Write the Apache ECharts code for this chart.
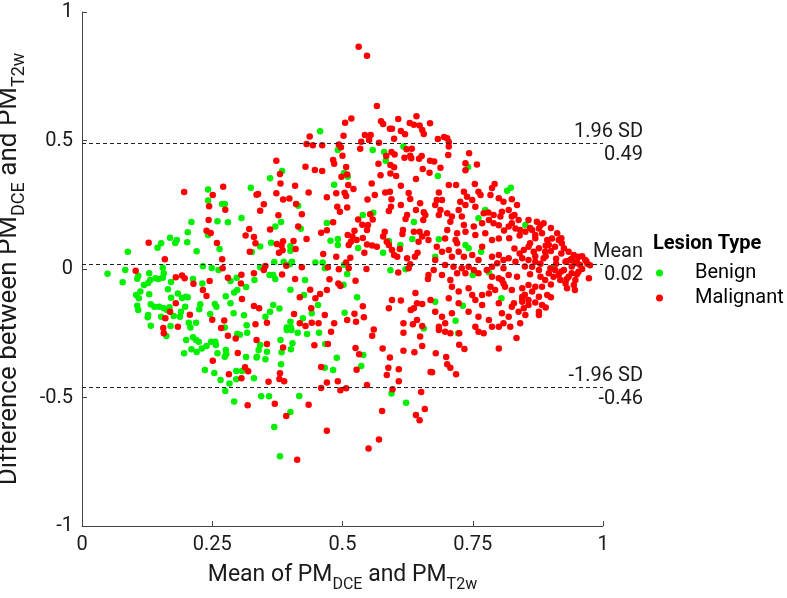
<!DOCTYPE html>
<html><head><meta charset="utf-8">
<script src="https://cdn.jsdelivr.net/npm/echarts/dist/echarts.min.js"></script>
<style>html,body{margin:0;padding:0;background:#fff}#c{width:787px;height:598px}</style>
</head><body><div id="c"></div>
<script>
const seriesNames = ['Benign', 'Malignant'];
const xTicks = [0, 0.25, 0.5, 0.75, 1];
const yTicks = [-1, -0.5, 0, 0.5, 1];
const limitValues = [0.49, 0.02, -0.46];
const limitNames = ['1.96 SD', 'Mean', '-1.96 SD'];
const limitTexts = ['0.49', '0.02', '-0.46'];

// [mean, difference]
const benignPoints = [
[0.457,0.536],[0.491,0.463],[0.558,0.463],[0.580,0.455],[0.583,0.421],[0.617,0.477],[0.503,0.374],[0.510,0.359],[0.384,0.381],[0.361,0.353],
[0.683,0.362],[0.741,0.397],[0.242,0.309],[0.324,0.316],[0.242,0.267],[0.269,0.253],[0.274,0.253],[0.306,0.198],[0.210,0.183],[0.260,0.186],
[0.280,0.182],[0.203,0.143],[0.242,0.132],[0.169,0.122],[0.182,0.113],[0.152,0.100],[0.145,0.083],[0.179,0.101],[0.202,0.104],[0.220,0.069],
[0.088,0.067],[0.264,0.078],[0.326,0.066],[0.232,0.011],[0.249,0.004],[0.083,-0.004],[0.049,-0.018],[0.078,-0.052],[0.155,0.005],[0.157,-0.017],
[0.155,-0.034],[0.108,-0.026],[0.106,-0.038],[0.129,-0.017],[0.131,-0.043],[0.171,-0.051],[0.141,-0.036],[0.147,-0.039],[0.262,-0.004],[0.297,-0.034],
[0.285,-0.047],[0.331,-0.043],[0.213,-0.039],[0.231,-0.056],[0.315,-0.070],[0.298,-0.082],[0.292,-0.091],[0.276,-0.106],[0.119,-0.062],[0.127,-0.054],
[0.112,-0.088],[0.129,-0.098],[0.104,-0.101],[0.109,-0.114],[0.165,-0.079],[0.171,-0.112],[0.184,-0.095],[0.192,-0.113],[0.199,-0.108],[0.203,-0.110],
[0.106,-0.143],[0.108,-0.160],[0.132,-0.137],[0.139,-0.147],[0.148,-0.147],[0.157,-0.153],[0.163,-0.160],[0.168,-0.149],[0.198,-0.147],[0.190,-0.166],
[0.227,-0.137],[0.225,-0.157],[0.255,-0.136],[0.258,-0.147],[0.285,-0.133],[0.127,-0.179],[0.126,-0.188],[0.152,-0.186],[0.176,-0.183],[0.188,-0.186],
[0.246,-0.175],[0.291,-0.172],[0.311,-0.180],[0.205,-0.209],[0.219,-0.209],[0.132,-0.221],[0.170,-0.222],[0.316,-0.219],[0.274,-0.228],[0.208,-0.228],
[0.484,0.328],[0.415,0.246],[0.559,0.219],[0.539,0.210],[0.637,0.183],[0.382,0.183],[0.470,0.179],[0.420,0.157],[0.371,0.165],[0.634,0.117],
[0.491,0.117],[0.477,0.110],[0.491,0.093],[0.363,0.102],[0.400,0.089],[0.400,0.071],[0.342,0.088],[0.530,0.082],[0.578,0.063],[0.589,0.109],
[0.611,0.093],[0.448,0.025],[0.462,0.025],[0.466,0.003],[0.369,0.027],[0.342,0.007],[0.387,0.028],[0.403,0.028],[0.399,0.018],[0.503,0.017],
[0.509,-0.019],[0.592,-0.005],[0.621,-0.001],[0.367,-0.023],[0.371,-0.039],[0.360,-0.023],[0.428,-0.043],[0.502,-0.061],[0.400,-0.081],[0.426,-0.101],
[0.528,-0.110],[0.453,-0.140],[0.367,-0.140],[0.379,-0.154],[0.361,-0.166],[0.352,-0.186],[0.424,-0.192],[0.441,-0.172],[0.400,-0.205],[0.393,-0.228],
[0.401,-0.228],[0.504,-0.170],[0.656,-0.232],[0.816,0.304],[0.823,0.316],[0.774,0.230],[0.761,0.197],[0.851,0.171],[0.905,0.007],[0.781,-0.014],
[0.750,-0.023],[0.678,0.048],[0.685,0.116],[0.736,0.093],[0.742,0.081],[0.766,0.067],[0.731,-0.143],[0.678,-0.127],[0.717,-0.201],[0.805,-0.114],
[0.162,-0.261],[0.200,-0.276],[0.213,-0.266],[0.219,-0.276],[0.224,-0.283],[0.248,-0.283],[0.256,-0.283],[0.257,-0.296],[0.298,-0.253],[0.303,-0.256],
[0.317,-0.248],[0.210,-0.312],[0.220,-0.323],[0.196,-0.328],[0.230,-0.309],[0.239,-0.300],[0.260,-0.328],[0.276,-0.315],[0.274,-0.341],[0.277,-0.331],
[0.315,-0.342],[0.335,-0.344],[0.236,-0.393],[0.254,-0.405],[0.296,-0.397],[0.307,-0.397],[0.266,-0.432],[0.283,-0.446],[0.296,-0.429],[0.330,-0.425],
[0.275,-0.475],[0.292,-0.516],[0.393,-0.237],[0.402,-0.237],[0.414,-0.248],[0.432,-0.253],[0.455,-0.248],[0.381,-0.276],[0.342,-0.296],[0.339,-0.315],
[0.355,-0.322],[0.352,-0.351],[0.336,-0.341],[0.383,-0.324],[0.382,-0.371],[0.404,-0.289],[0.401,-0.312],[0.467,-0.292],[0.540,-0.335],[0.489,-0.345],
[0.466,-0.384],[0.482,-0.393],[0.536,-0.377],[0.594,-0.484],[0.344,-0.495],[0.359,-0.495],[0.417,-0.494],[0.622,-0.520],[0.400,-0.556],[0.369,-0.615],
[0.380,-0.729],[0.722,-0.250]
];

const malignantPoints = [
[0.531,0.865],[0.547,0.830],[0.566,0.634],[0.517,0.586],[0.505,0.569],[0.437,0.516],[0.502,0.518],[0.543,0.521],[0.554,0.521],[0.574,0.575],
[0.578,0.564],[0.607,0.584],[0.591,0.546],[0.595,0.546],[0.629,0.568],[0.637,0.561],[0.642,0.594],[0.648,0.558],[0.653,0.541],[0.656,0.525],
[0.668,0.567],[0.612,0.537],[0.620,0.524],[0.599,0.507],[0.431,0.486],[0.443,0.482],[0.461,0.482],[0.493,0.484],[0.497,0.474],[0.500,0.441],
[0.536,0.495],[0.534,0.468],[0.551,0.502],[0.570,0.491],[0.584,0.440],[0.594,0.455],[0.600,0.446],[0.623,0.466],[0.633,0.468],[0.619,0.433],
[0.630,0.441],[0.632,0.431],[0.647,0.429],[0.652,0.440],[0.668,0.421],[0.482,0.424],[0.484,0.410],[0.373,0.421],[0.429,0.398],[0.447,0.385],
[0.461,0.381],[0.507,0.397],[0.509,0.368],[0.498,0.359],[0.569,0.410],[0.573,0.365],[0.592,0.405],[0.599,0.396],[0.592,0.372],[0.603,0.362],
[0.654,0.389],[0.667,0.375],[0.641,0.350],[0.380,0.370],
[0.683,0.506],[0.695,0.514],[0.701,0.509],[0.704,0.494],[0.704,0.477],[0.703,0.444],[0.676,0.418],[0.688,0.394],[0.743,0.450],[0.736,0.411],
[0.758,0.407],[0.736,0.384],
[0.196,0.300],[0.271,0.320],[0.335,0.289],[0.251,0.288],[0.244,0.244],[0.275,0.231],[0.243,0.191],[0.321,0.156],[0.239,0.149],[0.247,0.140],
[0.314,0.130],[0.330,0.125],[0.128,0.102],[0.259,0.101],[0.333,0.100],[0.322,0.067],[0.159,0.038],[0.269,0.038],[0.103,-0.007],[0.180,-0.032],
[0.192,-0.025],[0.197,-0.036],[0.270,0.003],[0.306,-0.022],[0.330,-0.017],[0.280,-0.034],[0.214,-0.057],[0.245,-0.047],[0.232,-0.082],[0.305,-0.056],
[0.239,-0.105],[0.307,-0.117],[0.180,-0.133],[0.169,-0.166],[0.330,-0.144],[0.160,-0.192],[0.207,-0.178],[0.250,-0.197],[0.273,-0.200],[0.156,-0.230],
[0.184,-0.225],[0.267,-0.230],[0.333,-0.215],
[0.381,0.333],[0.409,0.324],[0.511,0.327],[0.521,0.311],[0.504,0.297],[0.507,0.284],[0.488,0.295],[0.470,0.279],[0.435,0.298],[0.373,0.295],
[0.386,0.270],[0.398,0.274],[0.338,0.292],[0.556,0.333],[0.562,0.288],[0.548,0.270],[0.582,0.298],[0.591,0.301],[0.612,0.324],[0.627,0.296],
[0.594,0.271],[0.593,0.242],[0.589,0.226],[0.612,0.249],[0.649,0.256],[0.641,0.230],[0.656,0.221],[0.630,0.272],[0.349,0.252],[0.342,0.227],
[0.411,0.253],[0.422,0.213],[0.490,0.242],[0.495,0.223],[0.509,0.239],[0.553,0.213],[0.530,0.193],[0.558,0.193],[0.549,0.171],[0.538,0.172],
[0.547,0.152],[0.624,0.210],[0.621,0.195],[0.659,0.210],[0.655,0.191],[0.377,0.209],[0.482,0.182],[0.415,0.165],[0.361,0.154],[0.470,0.151],
[0.459,0.141],[0.523,0.149],[0.510,0.132],[0.519,0.126],[0.527,0.113],[0.516,0.106],[0.512,0.093],[0.539,0.121],[0.581,0.145],[0.578,0.126],
[0.585,0.106],[0.589,0.093],[0.595,0.074],[0.599,0.054],[0.616,0.152],[0.615,0.136],[0.637,0.145],[0.648,0.145],[0.653,0.126],[0.646,0.106],
[0.662,0.139],[0.665,0.113],[0.431,0.117],[0.406,0.109],[0.386,0.108],[0.383,0.091],[0.374,0.097],[0.385,0.073],[0.378,0.063],[0.410,0.078],
[0.547,0.095],[0.542,0.063],[0.557,0.091],[0.566,0.087],[0.610,0.078],[0.605,0.048],[0.624,0.042],[0.639,0.048],[0.644,0.063],[0.630,0.018],
[0.488,0.048],[0.463,0.058],[0.515,0.044],[0.507,0.025],[0.422,0.007],[0.392,0.013],[0.352,0.012],[0.349,-0.004],[0.512,0.003],[0.493,-0.001],
[0.472,0.007],[0.546,0.000],[0.607,-0.014],[0.627,0.003],[0.665,-0.023],[0.664,-0.039],[0.384,-0.021],[0.409,-0.039],[0.525,-0.046],[0.475,-0.040],
[0.492,-0.056],[0.496,-0.066],[0.640,-0.093],[0.438,-0.081],[0.457,-0.097],[0.448,-0.114],[0.418,-0.110],[0.470,-0.082],[0.595,-0.121],[0.612,-0.123],
[0.589,-0.153],[0.643,-0.133],[0.653,-0.136],[0.637,-0.153],[0.631,-0.160],[0.669,-0.121],[0.440,-0.153],[0.539,-0.145],[0.340,-0.153],[0.407,-0.175],
[0.466,-0.179],[0.523,-0.174],[0.526,-0.205],[0.509,-0.198],[0.541,-0.188],[0.355,-0.209],[0.418,-0.211],[0.429,-0.222],[0.441,-0.209],[0.454,-0.211],
[0.484,-0.211],[0.560,-0.235],[0.635,-0.215],[0.643,-0.198],[0.653,-0.222],[0.617,-0.211],
[0.704,0.327],[0.718,0.327],[0.754,0.331],[0.792,0.331],[0.787,0.315],[0.784,0.288],[0.685,0.298],[0.681,0.268],[0.691,0.268],[0.678,0.249],
[0.688,0.230],[0.685,0.210],[0.733,0.301],[0.739,0.281],[0.761,0.301],[0.765,0.288],[0.749,0.268],[0.726,0.262],[0.736,0.249],[0.755,0.242],
[0.723,0.230],[0.729,0.204],[0.710,0.204],[0.707,0.184],[0.701,0.217],[0.800,0.275],[0.809,0.262],[0.825,0.271],[0.835,0.249],[0.806,0.223],
[0.819,0.230],[0.803,0.204],[0.771,0.217],[0.790,0.210],[0.781,0.191],[0.768,0.178],[0.790,0.178],[0.825,0.204],[0.825,0.178],[0.838,0.191],
[0.857,0.191],[0.873,0.184],[0.886,0.178],[0.819,0.165],[0.832,0.158],[0.841,0.152],[0.851,0.145],[0.864,0.152],[0.877,0.158],[0.883,0.139],
[0.870,0.132],[0.912,0.139],[0.915,0.113],[0.902,0.119],[0.893,0.113],[0.896,0.093],[0.908,0.087],[0.925,0.081],[0.921,0.100],[0.934,0.067],
[0.944,0.054],[0.953,0.048],[0.966,0.035],[0.937,0.035],[0.928,0.028],[0.947,0.022],[0.956,0.016],[0.973,-0.036],[0.953,-0.011],[0.940,-0.017],
[0.947,-0.043],[0.934,-0.030],[0.925,-0.004],[0.915,-0.023],[0.908,-0.004],[0.899,0.003],[0.896,-0.017],[0.905,-0.030],[0.918,-0.043],[0.928,-0.056],
[0.944,-0.062],[0.946,-0.082],[0.931,-0.075],[0.889,-0.043],[0.883,-0.069],[0.870,-0.069],[0.857,-0.062],[0.845,-0.075],[0.864,-0.088],[0.893,-0.101],
[0.877,-0.108],[0.857,-0.121],[0.845,-0.108],[0.883,-0.140],[0.877,-0.179],[0.848,-0.153],[0.845,-0.127],[0.829,-0.133],[0.825,-0.082],[0.812,-0.069],
[0.806,-0.043],[0.819,-0.023],[0.835,-0.030],[0.857,0.087],[0.848,0.074],[0.867,0.067],[0.877,0.081],[0.889,0.067],[0.886,0.042],[0.870,0.028],
[0.857,0.035],[0.845,0.042],[0.864,0.009],[0.877,-0.004],[0.787,0.048],[0.800,0.054],[0.809,0.035],[0.819,0.042],[0.832,0.028],[0.797,0.022],
[0.809,0.003],[0.787,0.009],[0.777,-0.004],[0.787,-0.030],[0.800,-0.036],[0.809,-0.056],[0.784,-0.069],[0.793,-0.082],[0.781,-0.095],[0.768,-0.101],
[0.742,0.009],[0.752,-0.004],[0.761,-0.017],[0.736,-0.017],[0.729,0.003],[0.713,0.009],[0.697,0.016],[0.691,-0.023],[0.707,-0.043],[0.720,-0.017],
[0.678,0.035],[0.675,-0.004],[0.681,0.087],[0.691,0.067],[0.704,0.074],[0.720,0.100],[0.723,0.067],[0.710,0.048],[0.733,0.048],[0.749,0.054],
[0.761,0.035],[0.768,0.087],[0.787,0.113],[0.800,0.119],[0.774,0.139],[0.701,0.152],[0.720,0.139],[0.736,0.145],[0.755,0.132],[0.717,0.113],
[0.697,0.119],[0.752,0.165],[0.733,0.171],[0.710,-0.069],[0.723,-0.088],[0.742,-0.075],[0.749,-0.101],[0.704,-0.114],[0.723,-0.133],[0.755,-0.121],
[0.768,-0.140],[0.742,-0.166],[0.761,-0.186],[0.710,-0.172],[0.691,-0.186],[0.678,-0.166],[0.697,-0.211],[0.685,-0.225],[0.800,-0.133],[0.806,-0.172],
[0.819,-0.186],[0.809,-0.211],[0.825,-0.147],[0.838,-0.166],[0.851,-0.179],[0.841,-0.211],[0.822,-0.225],[0.800,-0.225],[0.845,-0.114],[0.857,-0.140],
[0.877,-0.166],[0.755,-0.225],[0.781,-0.198],[0.787,-0.225],
[0.860,0.100],[0.870,0.050],[0.880,0.020],[0.890,0.050],[0.900,0.070],[0.910,0.040],[0.920,0.060],[0.930,0.030],[0.940,0.010],[0.950,0.030],
[0.960,0.000],[0.970,0.020],[0.920,-0.010],[0.900,-0.060],[0.880,-0.030],[0.860,-0.020],[0.850,0.010],[0.840,0.060],[0.870,0.120],[0.890,0.090],
[0.910,0.020],[0.930,-0.040],[0.950,-0.020],[0.940,0.040],[0.960,0.050],[0.850,-0.100],[0.870,-0.130],[0.900,-0.110],[0.890,-0.150],[0.820,0.120],
[0.830,0.080],[0.810,0.150],[0.860,0.160],[0.840,0.130],[0.880,0.170],[0.900,0.160],[0.920,0.120],[0.800,0.170],[0.780,0.220],[0.830,0.210],
[0.975,0.015],[0.968,0.030],
[0.157,-0.250],[0.280,-0.260],[0.295,-0.270],[0.335,-0.276],[0.299,-0.327],[0.251,-0.357],[0.282,-0.410],[0.313,-0.382],[0.319,-0.398],[0.306,-0.425],
[0.318,-0.530],
[0.478,-0.244],[0.557,-0.260],[0.617,-0.248],[0.649,-0.263],[0.355,-0.292],[0.386,-0.305],[0.446,-0.297],[0.472,-0.292],[0.525,-0.307],[0.532,-0.332],
[0.577,-0.309],[0.591,-0.344],[0.617,-0.318],[0.638,-0.324],[0.653,-0.300],[0.459,-0.381],[0.527,-0.392],[0.588,-0.384],[0.585,-0.412],[0.608,-0.390],
[0.608,-0.437],[0.669,-0.401],[0.380,-0.406],[0.379,-0.428],[0.388,-0.437],[0.358,-0.439],[0.470,-0.442],[0.491,-0.437],[0.459,-0.463],[0.496,-0.472],
[0.507,-0.464],[0.547,-0.451],[0.596,-0.468],[0.651,-0.479],[0.370,-0.524],[0.435,-0.528],[0.658,-0.545],[0.641,-0.568],[0.648,-0.589],[0.392,-0.572],
[0.576,-0.553],[0.470,-0.629],[0.570,-0.663],[0.550,-0.698],[0.413,-0.742],
[0.685,-0.237],[0.697,-0.244],[0.707,-0.250],[0.724,-0.250],[0.761,-0.244],[0.771,-0.250],[0.834,-0.268],[0.724,-0.295],[0.734,-0.311],[0.800,-0.309],
[0.679,-0.328],[0.699,-0.342],[0.701,-0.371],[0.707,-0.384],[0.718,-0.410],[0.672,-0.402]
];

const FONT = 'Roboto';
const TXT = '#1a1a1a';
const xNameRich = {
  n: { fontFamily: FONT, fontSize: 23, color: TXT, lineHeight: 26, verticalAlign: 'top' },
  s: { fontFamily: FONT, fontSize: 16, color: TXT, lineHeight: 17, padding: [13, 0, 0, 0], verticalAlign: 'top' }
};
const yNameRich = {
  n: { fontFamily: FONT, fontSize: 26, color: TXT, lineHeight: 29, padding: [4, 0, 0, 0], verticalAlign: 'top' },
  s: { fontFamily: FONT, fontSize: 18, color: TXT, lineHeight: 19, padding: [18, 0, 0, 0], verticalAlign: 'top' }
};

const chart = echarts.init(document.getElementById('c'), null, { renderer: 'canvas' });
chart.setOption({
  animation: false,
  backgroundColor: '#ffffff',
  textStyle: { fontFamily: FONT },
  grid: { left: 82, right: 184, top: 12, bottom: 72, containLabel: false, outerBoundsMode: 'none' },
  title: {
    text: 'Lesion Type', left: 648, top: 229,
    textStyle: { fontFamily: FONT, fontSize: 20, fontWeight: 'bold', color: '#000' }
  },
  legend: {
    data: seriesNames, orient: 'vertical', left: 656, top: 263, padding: 0,
    icon: 'circle', itemWidth: 7, itemHeight: 7, itemGap: 5,
    textStyle: { fontFamily: FONT, fontSize: 20, color: '#000', lineHeight: 20, padding: [0, 0, 0, 27] }
  },
  xAxis: {
    type: 'value', min: xTicks[0], max: xTicks[xTicks.length - 1], interval: 0.25,
    name: '{n|Mean of PM}{s|DCE}{n| and PM}{s|T2w}', nameLocation: 'middle', nameGap: 38,
    nameTextStyle: { rich: xNameRich },
    axisLine: { show: true, onZero: false, lineStyle: { color: '#444', width: 1 } },
    axisTick: { show: true, inside: true, length: 5, lineStyle: { color: '#444' } },
    axisLabel: { fontFamily: FONT, fontSize: 20, color: TXT, margin: 9 },
    splitLine: { show: false }
  },
  yAxis: {
    type: 'value', min: yTicks[0], max: yTicks[yTicks.length - 1], interval: 0.5,
    name: '{n|Difference between PM}{s|DCE}{n| and PM}{s|T2w}', nameLocation: 'middle', nameGap: 33, nameRotate: 90,
    nameTextStyle: { rich: yNameRich },
    axisLine: { show: true, onZero: false, lineStyle: { color: '#444', width: 1 } },
    axisTick: { show: true, inside: true, length: 5, lineStyle: { color: '#444' } },
    axisLabel: { fontFamily: FONT, fontSize: 20, color: TXT, margin: 9 },
    splitLine: { show: false }
  },
  series: [
    {
      name: seriesNames[0], type: 'scatter', data: benignPoints, symbolSize: 6.5,
      itemStyle: { color: '#00f000', opacity: 1 }, z: 2
    },
    {
      name: seriesNames[1], type: 'scatter', data: malignantPoints, symbolSize: 6.5,
      itemStyle: { color: '#ff0000', opacity: 1 }, z: 3
    },
    {
      name: 'limits', type: 'scatter', data: [], z: 4,
      markLine: {
        silent: true, symbol: ['none', 'none'],
        lineStyle: { color: '#222', type: [4, 3], width: 1 },
        label: {
          show: true, position: 'end', distance: 40, align: 'right',
          fontFamily: FONT, fontSize: 20, color: TXT, lineHeight: 23
        },
        data: limitValues.map((v, i) => ({ yAxis: v, label: { formatter: limitNames[i] + '\n' + limitTexts[i] } }))
      }
    }
  ]
});
</script>
</body></html>
